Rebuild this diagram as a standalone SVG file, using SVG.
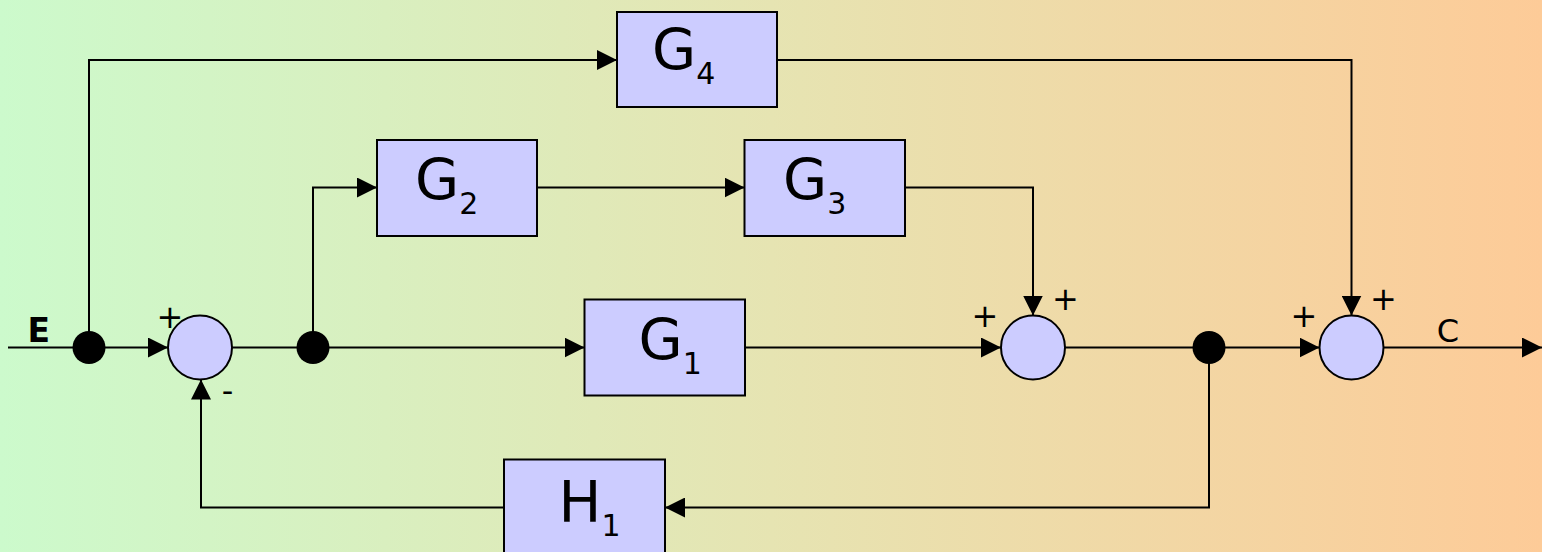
<svg xmlns="http://www.w3.org/2000/svg" width="1542" height="552" viewBox="0 0 1542 552">
<style>
.box{fill:#ccccff;stroke:#000;stroke-width:2}
.sum{fill:#ccccff;stroke:#000;stroke-width:2}
.dot{fill:#000}
.wire{fill:none;stroke:#000;stroke-width:2;marker-end:url(#arr)}
.lbl{font-family:"DejaVu Sans","Liberation Sans",sans-serif;font-size:57px;fill:#000}
.sub{font-size:30px}
.sign{font-family:"DejaVu Sans","Liberation Sans",sans-serif;font-size:32px;fill:#000;text-anchor:middle}
.io{font-family:"DejaVu Sans","Liberation Sans",sans-serif;fill:#000}
</style>
<defs>
<linearGradient id="bg" x1="0" y1="0" x2="1" y2="0">
<stop offset="0" stop-color="#ccfacc"/>
<stop offset="0.5" stop-color="#e6e4b2"/>
<stop offset="1" stop-color="#fdcb98"/>
</linearGradient>
<marker id="arr" markerUnits="userSpaceOnUse" markerWidth="20" markerHeight="20" viewBox="0 0 20 20" refX="20" refY="10" orient="auto">
<path d="M0,0 L20,10 L0,20 Z" fill="#000"/>
</marker>
</defs>
<rect x="0" y="0" width="1542" height="552" fill="url(#bg)"/>
<g id="connectors">
<path class="wire" d="M8,347.5 H168"/>
<path class="wire" d="M89,347.5 V60 H617"/>
<path class="wire" d="M232,347.5 H584.5"/>
<path class="wire" d="M313,347.5 V187.5 H377"/>
<path class="wire" d="M537,187.5 H744.5"/>
<path class="wire" d="M905,187.5 H1033 V315.5"/>
<path class="wire" d="M745,347.5 H1001"/>
<path class="wire" d="M777,60 H1351.5 V315.5"/>
<path class="wire" d="M1065,347.5 H1319.5"/>
<path class="wire" d="M1383.5,347.5 H1542"/>
<path class="wire" d="M1209,347.5 V507.5 H665"/>
<path class="wire" d="M504,507.5 H201 V379.5"/>
</g>
<g id="junctions">
<circle class="dot" cx="89" cy="347.5" r="16.5"/>
<circle class="dot" cx="313" cy="347.5" r="16.5"/>
<circle class="dot" cx="1209" cy="347.5" r="16.5"/>
</g>
<g id="sum1">
<circle class="sum" cx="200" cy="347.5" r="32"/>
<text class="sign" x="170" y="327.5">+</text>
<text class="sign" x="227.5" y="402">-</text>
</g>
<g id="sum2">
<circle class="sum" cx="1033" cy="347.5" r="32"/>
<text class="sign" x="985" y="326.5">+</text>
<text class="sign" x="1065.5" y="310">+</text>
</g>
<g id="sum3">
<circle class="sum" cx="1351.5" cy="347.5" r="32"/>
<text class="sign" x="1304" y="327">+</text>
<text class="sign" x="1383.5" y="310">+</text>
</g>
<g id="G4">
<rect class="box" x="617" y="12" width="160" height="95"/>
<text class="lbl" x="652" y="70">G<tspan class="sub" dy="14">4</tspan></text>
</g>
<g id="G2">
<rect class="box" x="377" y="140" width="160" height="96"/>
<text class="lbl" x="415" y="200">G<tspan class="sub" dy="14">2</tspan></text>
</g>
<g id="G3">
<rect class="box" x="744.5" y="140" width="160.5" height="96"/>
<text class="lbl" x="783" y="200">G<tspan class="sub" dy="14">3</tspan></text>
</g>
<g id="G1">
<rect class="box" x="584.5" y="299.5" width="160.5" height="96"/>
<text class="lbl" x="638.5" y="360">G<tspan class="sub" dy="14">1</tspan></text>
</g>
<g id="H1">
<rect class="box" x="504" y="459.5" width="161" height="100"/>
<text class="lbl" x="558.5" y="522">H<tspan class="sub" dy="14">1</tspan></text>
</g>
<g id="labels">
<text class="io" x="27.5" y="341.7" font-weight="bold" font-size="33">E</text>
<text class="io" x="1448" y="341.5" font-size="32" text-anchor="middle">C</text>
</g>
</svg>
